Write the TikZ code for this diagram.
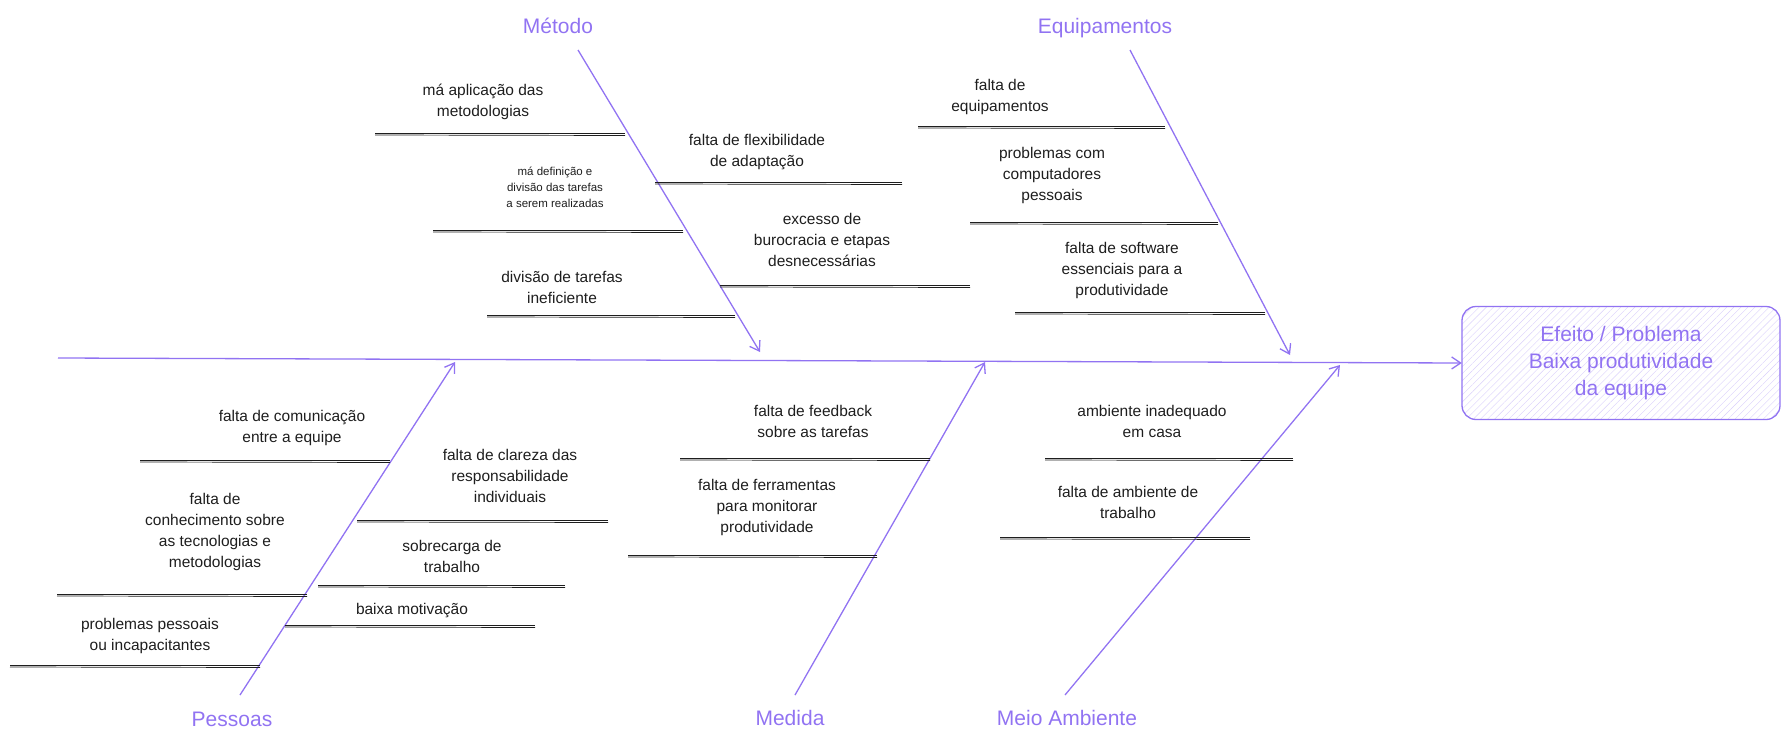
\documentclass[tikz,border=0pt]{standalone}
\usepackage{fontspec}
\setmainfont{Liberation Sans}
\usetikzlibrary{patterns,patterns.meta,arrows.meta}
\definecolor{vio}{HTML}{9173F2}
\definecolor{ink}{HTML}{1E1E1E}
\tikzset{
 bone/.style={draw=vio,line width=1.3pt,-{Straight Barb[length=9pt,width=12pt]}},
 cat/.style={text=vio,font=\fontsize{21}{25}\selectfont},
 lbl/.style={text=ink,align=center,font=\fontsize{15.5}{21}\selectfont},
 sml/.style={text=ink,align=center,font=\fontsize{11.5}{16}\selectfont},
 sub/.style={draw=ink,line width=0.7pt},
}
\newcommand{\subline}[4]{%
 \coordinate (#1a) at (#2,#4); \coordinate (#1b) at (#3,#4);
 \draw[sub] (#1a) -- (#1b);
 \draw[sub] ([yshift=-2pt]#1a) -- ([yshift=-2.5pt]#1b);}
\begin{document}
\begin{tikzpicture}[x=1pt,y=-1pt]
\useasboundingbox (0,0) rectangle (1792,747);
% effect box
\node[draw=vio,line width=1.3pt,rounded corners=14pt,minimum width=318pt,minimum height=113pt,
 pattern={Lines[angle=45,distance=5pt,line width=0.4pt]},pattern color=vio!35,
 text=vio,align=center,font=\fontsize{21}{27}\selectfont] (eff) at (1621,363)
 {Efeito / Problema\\Baixa produtividade\\da equipe};
\coordinate (sp0) at (58,358);
\draw[bone] (sp0) -- (eff.west);
% bones
\coordinate (m0) at (578,50); \coordinate (m1) at (760,352);
\coordinate (e0) at (1130,50); \coordinate (e1) at (1290,355);
\coordinate (p0) at (240,695); \coordinate (p1) at (455,362);
\coordinate (d0) at (795,695); \coordinate (d1) at (985,362);
\coordinate (a0) at (1065,695); \coordinate (a1) at (1340,365);
\foreach \s in {m,e,p,d,a} \draw[bone] (\s0) -- (\s1);
\node[cat] (lm) at (558,26) {Método};
\node[cat] (le) at (1105,28) {Equipamentos};
\node[cat] (lp) at (232,719) {Pessoas};
\node[cat] (ld) at (790,718) {Medida};
\node[cat] (la) at (1067,718) {Meio Ambiente};
% Método
\subline{s1}{375}{625}{133}\node[lbl] (t1) at (483,102) {má aplicação das\\metodologias};
\subline{s2}{433}{683}{230}\node[sml] (t2) at (555,187) {má definição e\\divisão das tarefas\\a serem realizadas};
\subline{s3}{487}{735}{315}\node[lbl] (t3) at (562,287) {divisão de tarefas\\ineficiente};
\subline{s4}{655}{902}{182}\node[lbl] (t4) at (757,152) {falta de flexibilidade\\de adaptação};
\subline{s5}{720}{970}{285}\node[lbl] (t5) at (822,240) {excesso de\\burocracia e etapas\\desnecessárias};
% Equipamentos
\subline{s6}{918}{1165}{126}\node[lbl] (t6) at (1000,97) {falta de\\equipamentos};
\subline{s7}{970}{1218}{222}\node[lbl] (t7) at (1052,175) {problemas com\\computadores\\pessoais};
\subline{s8}{1015}{1265}{312}\node[lbl] (t8) at (1122,270) {falta de software\\essenciais para a\\produtividade};
% Pessoas
\subline{s9}{140}{390}{460}\node[lbl] (t9) at (292,428) {falta de comunicação\\entre a equipe};
\subline{s10}{57}{307}{594}\node[lbl] (t10) at (215,532) {falta de\\conhecimento sobre\\as tecnologias e\\metodologias};
\subline{s11}{10}{260}{665}\node[lbl] (t11) at (150,636) {problemas pessoais\\ou incapacitantes};
\subline{s12}{357}{608}{520}\node[lbl] (t12) at (510,476) {falta de clareza das\\responsabilidade\\individuais};
\subline{s13}{318}{565}{585}\node[lbl] (t13) at (452,556) {sobrecarga de\\trabalho};
\subline{s14}{285}{535}{625}\node[lbl] (t14) at (412,611) {baixa motivação};
% Medida
\subline{s15}{680}{930}{458}\node[lbl] (t15) at (813,421) {falta de feedback\\sobre as tarefas};
\subline{s16}{628}{877}{555}\node[lbl] (t16) at (767,507) {falta de ferramentas\\para monitorar\\produtividade};
% Meio Ambiente
\subline{s17}{1045}{1293}{458}\node[lbl] (t17) at (1152,421) {ambiente inadequado\\em casa};
\subline{s18}{1000}{1250}{537}\node[lbl] (t18) at (1128,502) {falta de ambiente de\\trabalho};
\end{tikzpicture}
\end{document}
